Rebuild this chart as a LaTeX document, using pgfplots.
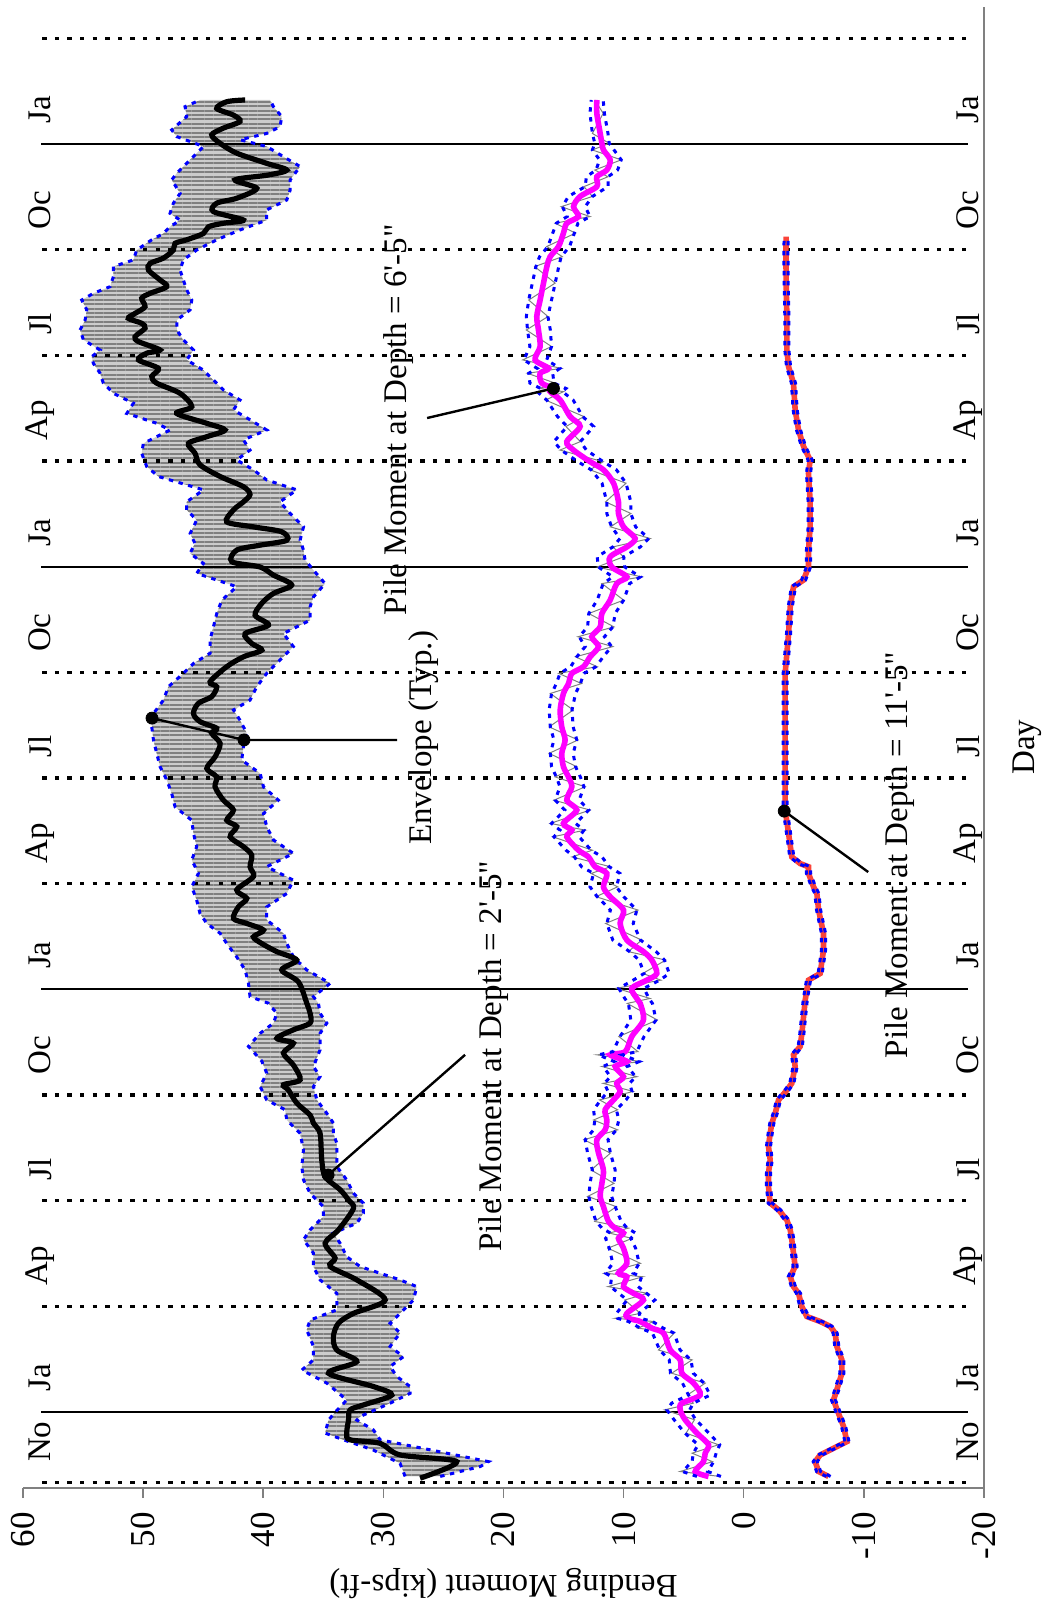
\documentclass[border=0pt]{standalone}
\usepackage{fontspec}
\setmainfont{Liberation Serif}
\newfontfamily\straight{Liberation Serif}
\usepackage{pgfplots}
\usepackage{pgfplotstable}
\pgfplotsset{compat=1.18}
\usepgfplotslibrary{fillbetween}
\usetikzlibrary{patterns.meta}
\definecolor{envblue}{RGB}{0,0,255}
\definecolor{magline}{RGB}{255,0,255}
\definecolor{redline}{RGB}{250,68,58}
\definecolor{axgray}{RGB}{128,128,128}

% Series 1 (depth 2'-5"): smoothed line
\pgfplotstableread{
m M
-1.88 26.94
-1.41 23.89
-1.22 28.6
-0.89 30.27
-0.79 32.77
-0.60 33.05
-0.22 32.9
0.06 32.77
0.20 31.66
0.48 29.3
0.72 30.8
1.10 34.57
1.43 32.21
1.76 33.88
2.14 34.16
2.52 33.74
2.80 32.49
3.18 29.85
3.75 32.21
4.13 34.43
4.37 34.02
4.79 34.85
5.17 33.74
5.78 32.49
6.02 32.91
6.31 33.6
6.68 34.85
7.16 35.13
7.91 35.27
8.20 35.82
8.43 36.1
8.77 37.21
9.14 37.9
9.29 38.32
9.43 36.93
9.85 37.49
10.19 38.32
10.47 37.49
10.61 38.87
10.85 37.49
11.04 36.1
11.32 36.1
11.61 36.38
12.21 37.07
12.55 38.46
12.83 37.21
13.07 38.87
13.30 40.12
13.49 40.82
13.68 39.98
13.87 41.37
14.01 42.48
14.34 42.07
14.58 41.37
14.82 42.21
15.20 40.82
15.48 41.1
15.81 40.96
16.05 41.65
16.33 42.76
16.62 42.21
16.80 43.04
17.09 42.48
17.37 43.32
17.75 44.01
18.03 43.87
18.27 44.70
18.60 44.01
18.98 43.59
19.27 44.29
19.41 43.87
19.60 45.26
19.83 45.81
20.12 45.40
20.31 44.29
20.59 43.87
20.73 44.43
21.16 43.04
21.44 41.65
21.63 40.12
21.82 40.96
22.10 41.51
22.34 39.57
22.62 40.68
22.96 40.12
23.24 39.15
23.48 37.63
23.76 39.15
23.99 40.26
24.14 42.62
24.47 42.21
24.61 40.26
24.75 38.04
24.99 38.46
25.13 40.82
25.27 43.04
25.61 42.48
25.84 41.65
26.05 41.10
26.27 41.65
26.56 43.59
26.89 45.26
27.22 45.68
27.50 46.23
27.69 44.70
27.88 43.18
28.07 44.70
28.35 47.20
28.54 45.95
28.92 46.92
29.21 48.87
29.40 49.28
29.63 48.73
29.87 50.39
30.06 49.70
30.15 48.59
30.39 50.39
30.53 50.67
30.77 49.84
30.91 50.12
31.05 51.23
31.19 50.67
31.38 49.84
31.62 50.12
31.76 49.42
31.95 48.03
32.14 48.59
32.42 49.56
32.61 49.42
32.76 48.31
32.99 47.48
33.18 47.34
33.28 46.37
33.46 44.98
33.65 44.56
33.75 43.32
33.84 41.65
34.08 44.15
34.32 43.87
34.46 42.21
34.74 40.54
34.98 42.35
35.12 39.57
35.26 38.04
35.45 39.71
35.74 42.21
36.02 43.59
36.26 44.29
36.45 43.32
36.64 41.93
36.82 42.48
37.01 43.87
37.20 43.04
37.25 41.51
}\sAs

% Series 1 upper envelope
\pgfplotstableread{
m M
-1.83 28.19
-1.46 28.61
-1.08 30.83
-0.79 33.32
-0.60 34.85
-0.23 34.57
-0.01 34.02
0.34 33.05
0.82 34.71
1.19 36.79
1.48 35.82
1.86 35.82
2.33 36.38
2.61 36.10
2.90 33.88
3.37 33.88
3.75 35.27
4.13 35.82
4.51 35.82
4.89 36.65
5.17 36.10
5.55 34.99
5.83 34.99
6.21 36.10
6.59 36.65
6.97 36.79
7.44 36.65
7.91 36.93
8.29 38.04
8.58 38.18
8.86 39.71
9.24 40.26
9.62 39.71
9.96 40.12
10.38 41.23
10.75 40.26
11.04 39.15
11.32 38.87
11.61 39.60
11.79 41.10
12.17 41.23
12.55 41.51
12.92 42.21
13.30 43.04
13.59 43.59
13.87 44.70
14.15 45.26
14.53 45.54
14.91 45.95
15.29 45.40
15.67 45.95
16.05 45.54
16.43 45.81
16.80 45.95
17.18 47.34
17.56 47.62
17.94 48.03
18.32 48.59
18.70 48.87
19.08 49.14
19.45 49.28
19.83 49.14
20.21 48.31
20.59 47.90
20.97 46.65
21.25 45.81
21.54 44.43
21.92 44.43
22.29 44.15
22.67 43.87
23.05 43.45
23.43 42.21
23.81 45.54
24.09 44.98
24.38 46.09
24.66 45.68
24.94 46.09
25.32 45.54
25.61 46.37
25.84 46.37
26.18 44.98
26.56 48.73
26.84 49.70
27.22 50.12
27.50 49.98
27.69 48.87
27.88 47.76
28.07 48.87
28.35 51.36
28.64 50.81
28.92 52.47
29.21 53.31
29.49 53.58
29.77 54.14
29.96 54.28
30.15 53.58
30.44 54.97
30.72 55.25
31.00 54.83
31.29 54.69
31.57 55.11
31.76 54.14
31.95 52.75
32.24 52.47
32.52 52.47
32.71 50.81
32.99 50.53
33.28 49.28
33.46 48.31
33.65 47.76
33.84 46.92
34.03 47.76
34.32 47.48
34.60 46.92
34.98 47.62
35.17 47.20
35.55 46.09
35.93 44.98
36.21 47.20
36.40 47.62
36.78 46.37
37.06 46.51
37.25 45.26
}\sAu

% Series 1 lower envelope
\pgfplotstableread{
m M
-1.83 25.27
-1.55 21.94
-1.41 21.25
-1.17 24.72
-0.98 27.49
-0.79 30.27
-0.51 30.83
-0.23 32.21
-0.13 31.94
0.25 29.44
0.53 27.77
0.72 27.77
1.01 28.88
1.29 29.44
1.57 28.33
1.86 29.44
2.24 28.61
2.52 29.44
2.80 28.61
3.18 27.49
3.56 27.22
3.75 28.61
4.13 31.94
4.41 33.05
4.79 33.60
5.08 34.16
5.36 32.21
5.64 31.66
5.93 31.66
6.21 32.49
6.59 33.05
6.97 33.88
7.25 33.88
7.63 33.88
7.91 34.16
8.20 34.16
8.48 34.71
8.86 35.54
9.24 35.82
9.52 35.27
9.81 35.82
10.28 35.27
10.75 35.27
11.04 34.71
11.32 35.27
11.61 35.41
11.79 35.82
12.17 34.43
12.55 36.38
12.92 37.49
13.30 38.04
13.59 38.32
13.97 39.71
14.34 39.71
14.72 38.04
15.10 37.49
15.48 39.71
15.86 37.49
16.24 39.15
16.62 39.71
16.99 39.98
17.37 38.74
17.75 39.98
18.13 40.26
18.51 41.79
18.89 41.65
19.27 41.37
19.64 41.93
19.93 42.48
20.21 41.10
20.59 40.54
20.97 39.71
21.35 38.60
21.73 37.49
22.10 38.32
22.48 36.10
22.86 36.10
23.14 35.82
23.52 34.85
23.90 35.82
24.19 36.52
24.47 36.65
24.75 36.93
25.13 36.65
25.51 37.76
25.84 38.60
26.18 37.21
26.46 39.71
26.75 40.82
27.03 42.21
27.31 41.10
27.60 41.65
27.88 39.71
28.17 41.10
28.45 42.48
28.73 41.93
29.02 43.32
29.30 44.15
29.58 44.98
29.87 46.37
30.15 45.81
30.44 46.65
30.72 47.20
31.00 47.20
31.29 46.09
31.57 45.95
31.86 46.37
32.14 46.65
32.42 46.92
32.71 46.65
32.99 45.54
33.28 43.87
33.56 41.93
33.84 39.71
34.13 39.71
34.41 38.04
34.69 37.76
34.98 37.76
35.36 36.93
35.64 38.32
35.93 39.71
36.12 41.93
36.30 39.71
36.49 38.60
36.78 38.46
37.06 39.15
37.25 39.43
}\sAl

% Series 2 (depth 6'-5"): m, smoothed, upper env, lower env, raw
\pgfplotstableread{
m s u l r
-1.83 2.93 3.9 1.9 2.0
-1.69 4.04 5.1 3.0 5.3
-1.41 3.35 4.3 2.5 2.6
-1.17 3.21 4.2 2.3 4.3
-0.93 2.93 3.8 2.0 2.1
-0.60 3.90 4.9 2.9 4.8
-0.22 4.88 5.8 4.0 4.1
0.06 5.29 6.4 4.5 6.6
0.25 5.15 6.0 4.2 4.2
0.48 3.63 4.6 2.8 4.7
0.82 4.18 5.1 3.3 3.2
1.10 5.15 6.1 4.2 6.0
1.48 5.29 6.2 4.4 4.3
1.76 6.12 7.0 5.3 7.1
2.24 6.68 7.6 5.8 5.8
2.38 7.65 8.6 6.7 8.8
2.57 8.62 9.6 7.6 7.5
2.66 9.59 10.5 8.6 10.7
2.80 9.73 10.6 8.7 8.6
3.18 8.35 9.7 7.4 9.9
3.37 9.18 10.4 8.1 8.0
3.56 10.01 11.1 8.8 11.3
3.84 9.73 11.0 8.5 8.4
3.94 10.43 11.5 9.2 11.6
4.22 9.73 10.9 8.7 8.6
4.65 10.01 11.2 9.0 11.3
4.93 10.43 11.5 9.4 9.3
5.08 10.01 11.1 9.0 11.2
5.22 10.70 11.8 9.7 9.6
5.41 11.26 12.3 10.2 12.4
5.83 11.68 12.7 10.7 10.6
6.12 11.95 12.9 11.0 13.0
6.49 11.81 12.8 10.8 10.8
6.87 11.68 12.6 10.7 12.7
7.35 12.09 13.0 11.1 11.1
7.73 12.23 13.2 11.3 13.3
8.01 11.54 12.5 10.6 10.5
8.29 11.40 12.4 10.4 12.5
8.58 11.54 12.5 10.6 10.5
8.86 10.84 11.9 9.8 12.0
9.10 10.29 11.3 9.3 9.2
9.33 10.57 11.6 9.5 11.7
9.52 10.01 11.1 9.0 8.9
9.81 10.70 11.7 9.7 11.8
9.95 9.73 10.8 8.7 8.6
10.14 11.12 12.1 10.1 12.2
10.23 9.87 10.9 8.9 8.8
10.66 9.32 10.3 8.3 10.4
11.13 8.35 9.4 7.3 7.2
11.60 8.62 9.6 7.6 9.7
11.74 8.90 9.9 7.9 7.8
12.03 9.32 10.4 8.3 10.6
12.26 8.07 9.2 7.0 6.9
12.45 7.24 8.3 6.2 8.4
12.83 7.65 8.7 6.6 6.5
13.07 8.35 9.5 7.3 9.6
13.40 9.73 10.9 8.6 8.5
13.87 10.29 11.4 9.2 11.5
14.25 10.01 11.1 8.9 8.8
14.63 11.12 12.2 10.0 12.3
14.91 11.68 12.8 10.6 10.5
15.29 11.40 12.5 10.3 12.7
15.48 12.37 13.5 11.2 11.1
15.76 12.93 14.1 11.8 14.3
15.95 13.76 14.8 12.7 12.6
16.33 14.73 15.8 13.7 15.9
16.52 14.31 15.3 13.3 13.2
16.71 15.01 16.0 14.0 16.1
17.09 13.90 14.9 12.9 12.8
17.37 14.73 15.7 13.7 15.8
17.75 14.31 15.3 13.3 13.2
18.03 14.59 15.6 13.6 15.7
18.32 15.01 16.0 14.0 13.9
18.70 15.15 16.1 14.2 16.2
19.08 14.87 15.8 13.9 13.8
19.45 15.15 16.1 14.2 16.2
19.93 15.28 16.2 14.3 14.2
20.40 15.01 16.0 14.0 16.1
20.68 14.59 15.6 13.6 13.5
20.97 14.31 15.3 13.3 15.4
21.16 13.34 14.4 12.3 12.2
21.44 12.79 13.9 11.7 14.0
21.73 12.09 13.2 11.0 10.9
22.01 12.65 13.7 11.6 13.8
22.29 11.95 13.0 10.9 10.8
22.67 11.81 12.9 10.7 12.9
23.05 11.12 12.2 10.0 10.0
23.52 10.57 11.7 9.5 11.8
23.71 9.73 10.9 8.6 8.5
23.99 10.98 12.1 9.9 12.2
24.28 11.12 12.2 10.0 10.0
24.56 9.73 10.9 8.6 10.9
24.80 9.04 10.3 7.9 7.8
25.13 10.01 11.0 9.0 11.1
25.51 10.43 11.4 9.4 9.4
25.84 10.43 11.4 9.4 11.5
26.37 10.84 11.8 9.8 9.8
26.75 11.68 12.7 10.6 12.8
26.98 12.79 13.8 11.7 11.7
27.31 14.17 15.2 13.1 15.3
27.55 14.73 15.8 13.6 13.6
27.98 13.62 14.7 12.5 14.8
28.26 14.45 15.5 13.4 13.3
28.73 15.28 16.4 14.2 16.5
28.97 16.12 17.2 15.1 15.0
29.06 15.84 16.9 14.8 17.0
29.21 16.81 17.8 15.8 15.7
29.49 16.95 17.9 15.9 18.0
29.63 16.26 17.2 15.3 15.2
29.87 17.37 18.3 16.4 18.4
30.25 16.95 17.8 16.0 16.0
30.72 17.09 18.0 16.1 18.1
31.10 17.23 18.1 16.3 16.3
31.57 16.95 17.9 16.0 17.9
32.05 16.67 17.6 15.7 15.7
32.52 16.39 17.3 15.4 17.4
32.80 16.12 17.0 15.2 15.1
33.09 15.42 16.3 14.5 16.4
33.47 15.01 15.9 14.1 14.0
33.75 14.73 15.6 13.8 15.7
33.94 13.76 14.7 12.8 12.8
34.22 14.17 15.1 13.2 15.2
34.51 13.62 14.6 12.6 12.6
34.79 12.23 13.2 11.3 13.3
35.07 12.23 13.1 11.3 11.3
35.26 11.40 12.3 10.5 12.4
35.55 11.12 12.0 10.2 10.2
35.83 11.68 12.6 10.8 12.6
36.02 11.81 12.4 11.2 11.2
36.30 11.95 12.6 11.3 12.6
36.87 12.23 12.8 11.6 11.7
37.25 12.23 12.7 11.7 12.4
}\sB

% Series 3 (depth 11'-5"): m, smoothed, upper env, lower env
\pgfplotstableread{
m s u l
-1.83 -7.06 -6.89 -7.23
-1.69 -6.23 -6.06 -6.40
-1.41 -5.95 -5.78 -6.12
-1.22 -6.36 -6.19 -6.53
-1.03 -7.47 -7.30 -7.64
-0.84 -8.59 -8.42 -8.76
-0.41 -8.31 -8.14 -8.48
-0.04 -7.89 -7.72 -8.06
0.34 -7.47 -7.30 -7.64
0.63 -7.75 -7.58 -7.92
1.10 -8.17 -8.00 -8.34
1.48 -8.17 -8.00 -8.34
1.86 -7.75 -7.58 -7.92
2.24 -7.61 -7.44 -7.78
2.43 -7.20 -7.03 -7.37
2.57 -6.36 -6.19 -6.53
2.71 -5.25 -5.08 -5.42
2.99 -4.84 -4.67 -5.01
3.37 -4.56 -4.39 -4.73
3.56 -4.14 -3.97 -4.31
3.84 -3.87 -3.70 -4.04
4.13 -4.28 -4.11 -4.45
4.51 -4.14 -3.97 -4.31
4.89 -4.00 -3.83 -4.17
5.17 -3.87 -3.70 -4.04
5.45 -3.59 -3.42 -3.76
5.74 -2.90 -2.73 -3.07
5.93 -2.20 -2.03 -2.37
6.40 -2.06 -1.89 -2.23
6.78 -2.06 -1.89 -2.23
7.16 -2.20 -2.03 -2.37
7.54 -2.06 -1.89 -2.23
7.91 -2.20 -2.03 -2.37
8.20 -2.34 -2.17 -2.51
8.48 -2.62 -2.45 -2.79
8.86 -2.90 -2.73 -3.07
9.14 -3.59 -3.42 -3.76
9.33 -4.00 -3.83 -4.17
9.81 -4.28 -4.11 -4.45
10.14 -4.14 -3.97 -4.31
10.38 -4.70 -4.53 -4.87
10.75 -4.84 -4.67 -5.01
11.23 -4.98 -4.81 -5.15
11.70 -5.12 -4.95 -5.29
12.26 -5.39 -5.22 -5.56
12.45 -6.36 -6.19 -6.53
13.11 -6.64 -6.47 -6.81
13.59 -6.64 -6.47 -6.81
14.25 -6.23 -6.06 -6.40
14.72 -6.09 -5.92 -6.26
14.91 -5.81 -5.64 -5.98
15.29 -5.39 -5.22 -5.56
15.48 -5.39 -5.22 -5.56
15.57 -4.70 -4.53 -4.87
15.76 -4.00 -3.83 -4.17
16.43 -3.73 -3.56 -3.90
17.09 -3.45 -3.28 -3.62
17.85 -3.45 -3.28 -3.62
18.79 -3.45 -3.28 -3.62
19.74 -3.45 -3.28 -3.62
20.97 -3.45 -3.28 -3.62
21.54 -3.59 -3.42 -3.76
22.10 -3.73 -3.56 -3.90
22.86 -3.87 -3.70 -4.04
23.43 -4.14 -3.97 -4.31
23.62 -4.98 -4.81 -5.15
23.99 -5.39 -5.22 -5.56
24.47 -5.39 -5.22 -5.56
25.13 -5.53 -5.36 -5.70
25.84 -5.53 -5.36 -5.70
26.65 -5.39 -5.22 -5.56
27.03 -5.53 -5.36 -5.70
27.41 -4.98 -4.81 -5.15
27.88 -4.56 -4.39 -4.73
28.45 -4.28 -4.11 -4.45
29.21 -4.14 -3.97 -4.31
29.68 -3.73 -3.56 -3.90
30.15 -3.59 -3.42 -3.76
31.10 -3.59 -3.42 -3.76
32.05 -3.53 -3.36 -3.70
32.99 -3.51 -3.34 -3.68
33.37 -3.53 -3.36 -3.70
}\sC

\begin{document}
\begin{tikzpicture}[
  lab/.style={font=\fontsize{16.5}{19}\selectfont, inner sep=0pt},
  sep/.style={black, line width=1.1pt},
  dsep/.style={black, line width=1.7pt, dash pattern=on 2.2pt off 4.1pt},
]
\begin{axis}[
  scale only axis, width=480.5pt, height=740.5pt,
  x dir=reverse, xmin=-20, xmax=60, ymin=-2.158, ymax=39.89,
  axis x line*=bottom, axis y line=none,
  x axis line style={axgray, line width=0.75pt, -},
  xtick={-20,-10,0,10,20,30,40,50,60},
  xticklabels={-20,-10,0,10,20,30,40,50,60},
  ytick=\empty,
  tick align=outside, major tick length=5pt,
  xtick style={axgray, line width=0.75pt},
  xticklabel style={rotate=90, anchor=east, font=\fontsize{17.5}{20}\selectfont, inner sep=0pt},
  xticklabel shift=7pt,
  clip=false,
  envl/.style={envblue, line width=1.5pt, dash pattern=on 2.2pt off 2.8pt},
]
% month separators
\draw[sep] (axis cs:58.5,0) -- (axis cs:-18.7,0);
\draw[sep] (axis cs:58.5,12) -- (axis cs:-18.7,12);
\draw[sep] (axis cs:58.5,24) -- (axis cs:-18.7,24);
\draw[sep] (axis cs:58.5,36) -- (axis cs:-18.7,36);
\draw[dsep] (axis cs:58.4,-2) -- (axis cs:-18.7,-2);
\draw[dsep] (axis cs:58.4,3) -- (axis cs:-18.7,3);
\draw[dsep] (axis cs:58.4,6) -- (axis cs:-18.7,6);
\draw[dsep] (axis cs:58.4,9) -- (axis cs:-18.7,9);
\draw[dsep] (axis cs:58.4,15) -- (axis cs:-18.7,15);
\draw[dsep] (axis cs:58.4,18) -- (axis cs:-18.7,18);
\draw[dsep] (axis cs:58.4,21) -- (axis cs:-18.7,21);
\draw[dsep] (axis cs:58.4,27) -- (axis cs:-18.7,27);
\draw[dsep] (axis cs:58.4,30) -- (axis cs:-18.7,30);
\draw[dsep] (axis cs:58.4,33) -- (axis cs:-18.7,33);
\draw[dsep] (axis cs:58.4,39) -- (axis cs:-18.7,39);
% right frame line (time axis)
\draw[axgray, line width=0.75pt] (axis cs:-20,-2.158) -- (axis cs:-20,39.89);

% series 1
\addplot[draw=none, name path=up1] table[x=M, y=m] {\sAu};
\addplot[draw=none, name path=lo1] table[x=M, y=m] {\sAl};
\addplot[gray!40, draw=none] fill between[of=up1 and lo1, reverse=true];
\addplot[draw=none, pattern={Lines[angle=0, distance=2.2pt, line width=1pt]}, pattern color=gray] fill between[of=up1 and lo1, reverse=true];
\addplot[envl] table[x=M, y=m] {\sAu};
\addplot[envl] table[x=M, y=m] {\sAl};
\addplot[black, line width=2.6pt, smooth, tension=0.5] table[x=M, y=m] {\sAs};

% series 2
\addplot[gray, line width=0.5pt] table[x=r, y=m] {\sB};
\addplot[magline, line width=2.8pt, smooth, tension=0.5] table[x=s, y=m] {\sB};
\addplot[envl] table[x=u, y=m] {\sB};
\addplot[envl] table[x=l, y=m] {\sB};

% series 3
\addplot[redline, line width=2.8pt] table[x=s, y=m] {\sC};
\addplot[envl] table[x=u, y=m] {\sC};
\addplot[envl] table[x=l, y=m] {\sC};

% leader lines and dots
\addplot[black, line width=1.2pt] coordinates {(34.60,6.73) (23.20,10.14)};
\addplot[black, line width=1.2pt] coordinates {(28.86,19.08) (41.60,19.08) (49.26,19.70)};
\addplot[black, line width=1.2pt] coordinates {(26.36,28.22) (15.84,29.06)};
\addplot[black, line width=1.2pt] coordinates {(-3.37,17.06) (-10.36,15.33)};
\addplot[only marks, mark=*, mark size=3pt, black] coordinates {(34.60,6.73) (41.60,19.08) (49.26,19.70) (15.84,29.06) (-3.37,17.06)};

% month labels (left column)
\node[lab, rotate=90, anchor=west] at (axis cs:58.58,-1.43) {No};
\node[lab, rotate=90, anchor=west] at (axis cs:58.58,0.57) {Ja};
\node[lab, rotate=90, anchor=west] at (axis cs:58.58,3.57) {Ap};
\node[lab, rotate=90, anchor=west] at (axis cs:58.58,6.57) {Jl};
\node[lab, rotate=90, anchor=west] at (axis cs:58.58,9.57) {Oc};
\node[lab, rotate=90, anchor=west] at (axis cs:58.58,12.57) {Ja};
\node[lab, rotate=90, anchor=west] at (axis cs:58.58,15.57) {Ap};
\node[lab, rotate=90, anchor=west] at (axis cs:58.58,18.57) {Jl};
\node[lab, rotate=90, anchor=west] at (axis cs:58.58,21.57) {Oc};
\node[lab, rotate=90, anchor=west] at (axis cs:58.58,24.57) {Ja};
\node[lab, rotate=90, anchor=west] at (axis cs:58.58,27.57) {Ap};
\node[lab, rotate=90, anchor=west] at (axis cs:58.58,30.57) {Jl};
\node[lab, rotate=90, anchor=west] at (axis cs:58.58,33.57) {Oc};
\node[lab, rotate=90, anchor=west] at (axis cs:58.58,36.57) {Ja};
% month labels (right column)
\node[lab, rotate=90, anchor=west] at (axis cs:-18.68,-1.43) {No};
\node[lab, rotate=90, anchor=west] at (axis cs:-18.68,0.57) {Ja};
\node[lab, rotate=90, anchor=west] at (axis cs:-18.68,3.57) {Ap};
\node[lab, rotate=90, anchor=west] at (axis cs:-18.68,6.57) {Jl};
\node[lab, rotate=90, anchor=west] at (axis cs:-18.68,9.57) {Oc};
\node[lab, rotate=90, anchor=west] at (axis cs:-18.68,12.57) {Ja};
\node[lab, rotate=90, anchor=west] at (axis cs:-18.68,15.57) {Ap};
\node[lab, rotate=90, anchor=west] at (axis cs:-18.68,18.57) {Jl};
\node[lab, rotate=90, anchor=west] at (axis cs:-18.68,21.57) {Oc};
\node[lab, rotate=90, anchor=west] at (axis cs:-18.68,24.57) {Ja};
\node[lab, rotate=90, anchor=west] at (axis cs:-18.68,27.57) {Ap};
\node[lab, rotate=90, anchor=west] at (axis cs:-18.68,30.57) {Jl};
\node[lab, rotate=90, anchor=west] at (axis cs:-18.68,33.57) {Oc};
\node[lab, rotate=90, anchor=west] at (axis cs:-18.68,36.57) {Ja};

% annotations
\node[lab, rotate=90] at (axis cs:20.8,10.1) {\straight Pile Moment at Depth = 2'-5"};
\node[lab, rotate=90] at (axis cs:26.61,19.14) {Envelope (Typ.)};
\node[lab, rotate=90] at (axis cs:28.7,28.17) {\straight Pile Moment at Depth = 6'-5"};
\node[lab, rotate=90] at (axis cs:-13.0,15.81) {\straight Pile Moment at Depth = 11'-5"};

% axis titles
\node[lab, rotate=180] at (axis cs:20,-4.86) {Bending Moment (kips-ft)};
\node[lab, rotate=90] at (axis cs:-23.6,18.88) {Day};
\end{axis}
\pgfresetboundingbox
\path ([shift={(-11.5pt,-61.5pt)}]current axis.south west) rectangle ([shift={(30pt,3.5pt)}]current axis.north east);
\end{tikzpicture}
\end{document}
